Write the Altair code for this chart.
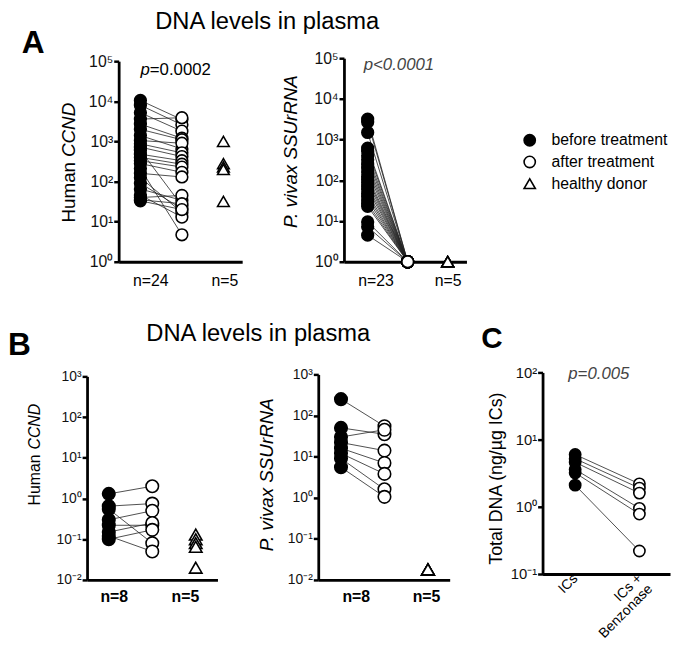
import json
import altair as alt
import pandas as pd

# ---------------- data ----------------
GROUPS = ["before treatment", "after treatment", "healthy donor"]
SHAPES = ["circle", "circle", "triangle-up"]
FILLS = ["black", "white", "white"]
STROKES = ["black", "black", "black"]
POW_LABELS = ["10⁻²", "10⁻¹", "10⁰", "10¹", "10²", "10³", "10⁴", "10⁵"]

A1_BEFORE = [10500, 8000, 5200, 3600, 2700, 2000, 1400, 1050, 870, 720, 600, 480,
             400, 330, 280, 210, 160, 125, 90, 65, 46, 40, 35, 33]
A1_AFTER = [3500, 2600, 1800, 3900, 1200, 1100, 650, 900, 520, 420, 25, 330,
            270, 230, 170, 4.7, 130, 17, 21, 34, 13, 45, 28, 20]
A1_HEALTHY = [1000, 280, 230, 200, 32]
A1_XLABELS = ["n=24", "n=5"]

A2_BEFORE = [3200, 2700, 1500, 620, 520, 400, 320, 250, 200, 160, 125, 105,
             88, 72, 60, 48, 40, 33, 27, 23, 9.5, 7.2, 4.5]
A2_AFTER = [1, 1, 1, 1, 1, 1, 1, 1, 1, 1, 1, 1, 1, 1, 1, 1, 1, 1, 1, 1, 1, 1, 1]
A2_HEALTHY = [1, 1, 1, 1, 1]
A2_XLABELS = ["n=23", "n=5"]

B1_BEFORE = [1.3, 0.65, 0.55, 0.3, 0.22, 0.15, 0.12, 0.1]
B1_AFTER = [2.0, 0.75, 0.08, 0.5, 0.22, 0.25, 0.05, 0.17]
B1_HEALTHY = [0.13, 0.1, 0.08, 0.065, 0.02]
B1_XLABELS = ["n=8", "n=5"]

B2_BEFORE = [250, 50, 30, 22, 16, 12, 9, 5.5]
B2_AFTER = [55, 35, 45, 14, 7, 3.8, 1.6, 1.05]
B2_HEALTHY = [0.018, 0.018, 0.018, 0.018, 0.018]
B2_XLABELS = ["n=8", "n=5"]

C_BEFORE = [6.0, 5.2, 4.6, 3.6, 3.2, 2.1]
C_AFTER = [2.2, 1.9, 1.6, 0.95, 0.78, 0.22]
C_XLABELS = ["ICs", ["ICs +\u2003\u2003", "Benzonase"]]

# ---------------- layout (page pixels) ----------------
W, H = 672, 634
M = 8


def P(v):
    return v - M


LEGEND = alt.Legend(orient="none", legendX=P(528), legendY=P(130), title=None,
                    labelFontSize=16, labelColor="black", symbolSize=130,
                    symbolStrokeColor="black", symbolStrokeWidth=1.6,
                    rowPadding=4, labelOffset=14, padding=0)
SHAPE_SCALE = alt.Scale(domain=GROUPS, range=SHAPES)
FILL_SCALE = alt.Scale(domain=GROUPS, range=FILLS)
STROKE_SCALE = alt.Scale(domain=GROUPS, range=STROKES)


def panel(before, after, healthy, xlabels, g):
    rows = []
    for i, (b, a) in enumerate(zip(before, after)):
        rows.append({"pos": 1, "v": b, "g": GROUPS[0], "pair": i})
        rows.append({"pos": 2, "v": a, "g": GROUPS[1], "pair": i})
    for h in healthy:
        rows.append({"pos": 3, "v": h, "g": GROUPS[2], "pair": -1})
    df = pd.DataFrame(rows)

    def to_v(p):
        return 1 + (p - g["px1"]) / g["step"]

    xs = alt.Scale(domain=[to_v(g["xl"]), to_v(g["xr"])],
                   range=[P(g["xl"]), P(g["xr"])], nice=False, zero=False)
    ys = alt.Scale(type="log", domain=g["ydom"],
                   range=[P(g["yb"]), P(g["yt"])], nice=False)
    lv = [round(to_v(p), 4) for p in g["xlab"]]
    mid = (lv[0] + lv[1]) / 2
    xexpr = f"datum.value < {mid} ? {json.dumps(xlabels[0], ensure_ascii=False)} : {json.dumps(xlabels[1], ensure_ascii=False)}"
    xaxis_kw = dict(orient="bottom", offset=P(g["yb"]) - H, values=lv, labelExpr=xexpr,
                    ticks=False, tickSize=0, domainWidth=2.8, domainColor="black",
                    labelFontSize=g["xfs"], labelFontWeight=g["xfw"], labelColor="black",
                    labelPadding=g["xpad"], labelFlush=False, labelOverlap=False,
                    grid=False, title=None)
    if "xangle" in g:
        xaxis_kw.update(labelAngle=g["xangle"], labelAlign="right", labelBaseline="middle",
                        labelLineHeight=15)
    xaxis = alt.Axis(**xaxis_kw)

    yexpr = f"{json.dumps(POW_LABELS, ensure_ascii=False)}[round(log(datum.value)/LN10)+2]"
    yaxis_kw = dict(orient="left", offset=-P(g["xl"]), values=g["yvals"], labelExpr=yexpr,
                    tickSize=5, tickWidth=2.5, tickColor="black", domainWidth=2.8,
                    domainColor="black", labelFontSize=g["yfs"], labelColor="#111",
                    labelPadding=1, labelFlush=False, labelOverlap=False, grid=False)
    if "ytitle" in g:
        yaxis_kw.update(title=g["ytitle"], titleFontSize=g["ytfs"], titleFontStyle=g["ytstyle"],
                        titleFontWeight="normal", titleColor="black", titleAngle=270,
                        titleAlign="center", titleBaseline="middle",
                        titleX=P(g["ytx"]) - P(g["xl"]), titleY=P(g["yty"]))
    else:
        yaxis_kw.update(title=None)
    yaxis = alt.Axis(**yaxis_kw)

    x = alt.X("pos:Q", scale=xs, axis=xaxis)
    y = alt.Y("v:Q", scale=ys, axis=yaxis)
    lines = alt.Chart(df).transform_filter(alt.datum.pair >= 0).mark_line(
        color="#222", strokeWidth=0.8).encode(x=x, y=y, detail="pair:N")
    points = alt.Chart(df).mark_point(filled=True, strokeWidth=1.6,
                                      opacity=1, size=g["size"]).encode(
        x=x, y=y,
        shape=alt.Shape("g:N", scale=SHAPE_SCALE, legend=LEGEND),
        fill=alt.Fill("g:N", scale=FILL_SCALE, legend=LEGEND),
        stroke=alt.Stroke("g:N", scale=STROKE_SCALE, legend=LEGEND),
    )
    return alt.layer(lines, points)


def txt(s, x, y, size, weight="normal", style="normal", angle=0, align="left",
        baseline="alphabetic", color="black"):
    return alt.Chart(pd.DataFrame({"t": [s]})).mark_text(
        fontSize=size, fontWeight=weight, fontStyle=style, angle=angle, align=align,
        baseline=baseline, color=color).encode(text="t:N", x=alt.value(P(x)), y=alt.value(P(y)))


A_Y = [1, 10, 100, 1e3, 1e4, 1e5]
B_Y = [0.01, 0.1, 1, 10, 100, 1000]
C_Y = [0.1, 1, 10, 100]

a1 = panel(A1_BEFORE, A1_AFTER, A1_HEALTHY, A1_XLABELS,
           dict(xl=120, xr=245, yb=261, yt=58, px1=142, step=42, ydom=[1, 1e5], yvals=A_Y,
                xlab=[152, 227], xfs=16, xfw="normal", xpad=11, yfs=16, size=140))
a2 = panel(A2_BEFORE, A2_AFTER, A2_HEALTHY, A2_XLABELS,
           dict(xl=348, xr=472, yb=261, yt=55, px1=372, step=40.5, ydom=[1, 1e5], yvals=A_Y,
                xlab=[380, 453], xfs=16, xfw="normal", xpad=11, yfs=16, size=140,
                ytitle="P. vivax SSUrRNA", ytfs=19, ytstyle="italic", ytx=294, yty=149))
b1 = panel(B1_BEFORE, B1_AFTER, B1_HEALTHY, B1_XLABELS,
           dict(xl=88, xr=220, yb=583, yt=377, px1=110, step=44, ydom=[0.01, 1000], yvals=B_Y,
                xlab=[115, 187], xfs=16, xfw="bold", xpad=9, yfs=14, size=160))
b2 = panel(B2_BEFORE, B2_AFTER, B2_HEALTHY, B2_XLABELS,
           dict(xl=322, xr=455, yb=583, yt=375, px1=345, step=44, ydom=[0.01, 1000], yvals=B_Y,
                xlab=[360, 431], xfs=16, xfw="bold", xpad=9, yfs=14, size=160,
                ytitle="P. vivax SSUrRNA", ytfs=19, ytstyle="italic", ytx=270, yty=476))
c = panel(C_BEFORE, C_AFTER, [], C_XLABELS,
          dict(xl=549, xr=678, yb=577, yt=373, px1=582, step=65, ydom=[0.1, 100], yvals=C_Y,
               xlab=[582, 647], xfs=14, xfw="normal", xpad=2, xangle=-45, yfs=15, size=130,
               ytitle="Total DNA (ng/µg ICs)", ytfs=18, ytstyle="normal", ytx=502, yty=480))

notes = [
    txt("DNA levels in plasma", 157, 25, 24),
    txt("DNA levels in plasma", 148, 341, 24),
    txt("A", 22, 50, 32, weight="bold"),
    txt("B", 8, 355, 32, weight="bold"),
    txt("C", 487, 348, 30, weight="bold"),
    txt("p", 142, 72, 17, style="italic"),
    txt("=0.0002", 151.5, 72, 17),
    txt("p<0.0001", 368, 67, 17, style="italic", color="#444"),
    txt("p=0.005", 575, 380, 17, style="italic", color="#444"),
    txt("Human", 70, 160, 19, angle=270, align="right", baseline="middle"),
    txt("CCND", 70, 155, 19, style="italic", angle=270, align="left", baseline="middle"),
    txt("Human", 35, 456, 16, angle=270, align="right", baseline="middle"),
    txt("CCND", 35, 451, 16, style="italic", angle=270, align="left", baseline="middle"),
]

chart = alt.layer(a1, a2, b1, b2, c, *notes).resolve_scale(
    x="independent", y="independent"
).properties(
    width=W, height=H, padding=0, autosize=alt.AutoSizeParams(type="none")
).configure(font="Liberation Sans").configure_view(stroke=None)

chart.save("out.html", embed_options={"renderer": "svg", "actions": False})
